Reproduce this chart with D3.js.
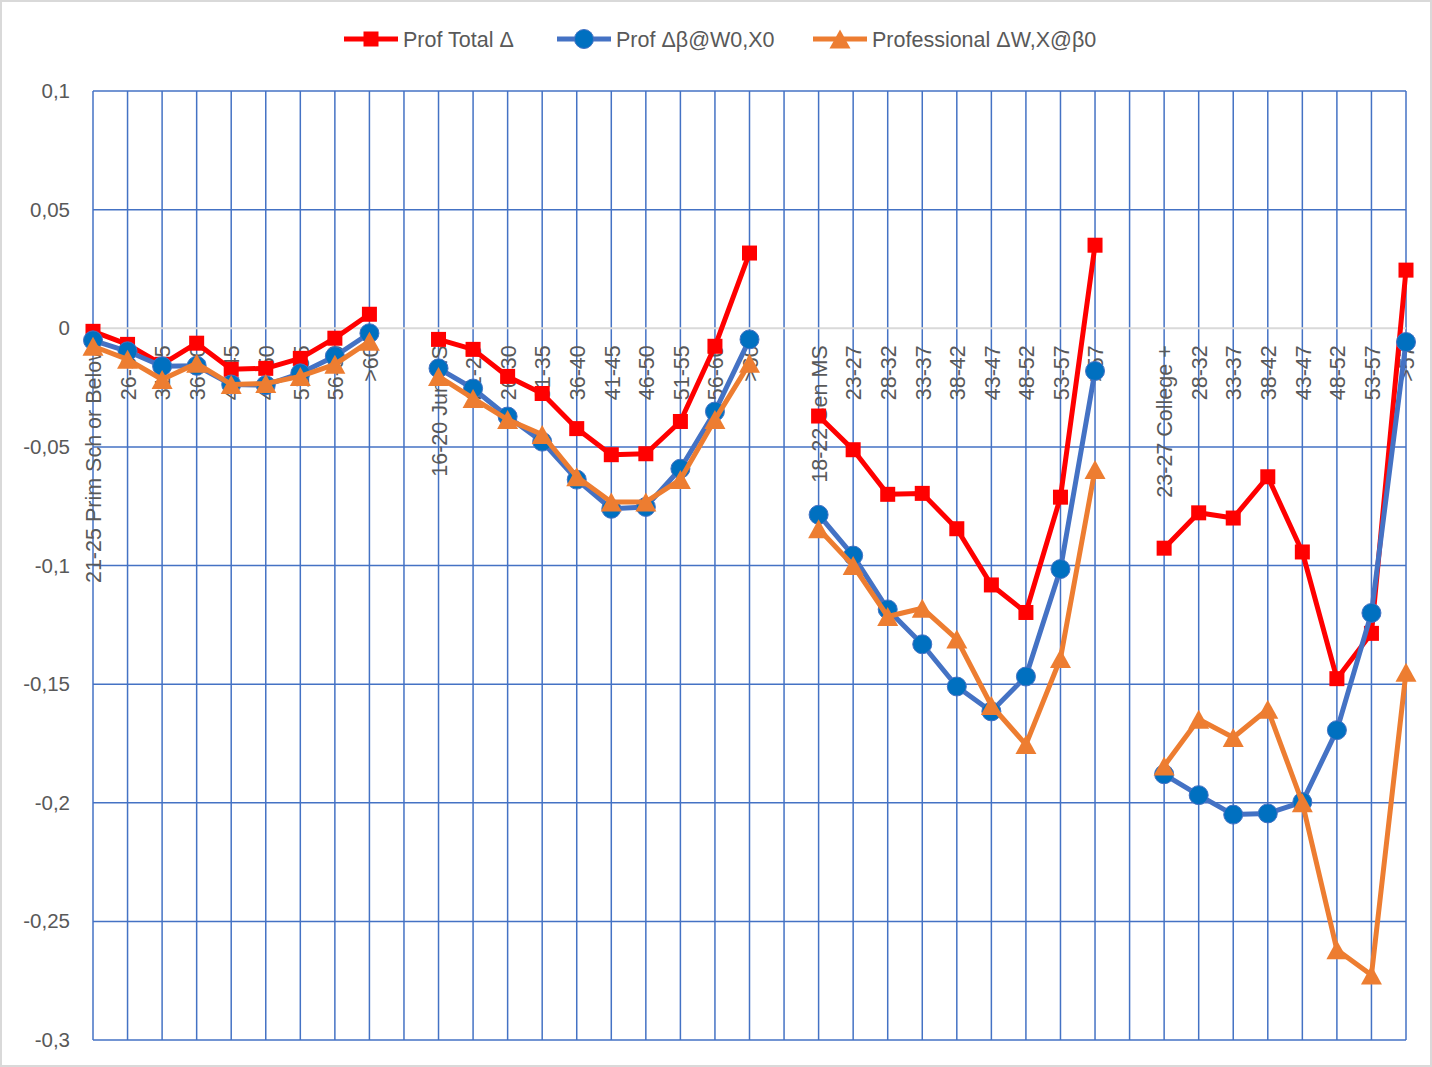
<!DOCTYPE html>
<html>
<head>
<meta charset="utf-8">
<script src="https://cdn.jsdelivr.net/npm/d3@7"></script>
<style>
  body { margin: 0; background: #fff; }
  svg text { font-family: "Liberation Sans", Arial, sans-serif; fill: #595959; }
</style>
</head>
<body>
<div id="chart"></div>
<script>
// categories, "" = gap between education groups
var categories = [
  "21-25 Prim Sch or Below", "26-30", "31-35", "36-40", "41-45", "46-50", "51-55", "56-60", ">60", "",
  "16-20 Jun HS", "21-25", "26-30", "31-35", "36-40", "41-45", "46-50", "51-55", "56-60", ">60", "",
  "18-22 Sen MS", "23-27", "28-32", "33-37", "38-42", "43-47", "48-52", "53-57", ">57", "",
  "23-27 College +", "28-32", "33-37", "38-42", "43-47", "48-52", "53-57", ">57"
];

var profTotal = [
  -0.0013, -0.0068, -0.0152, -0.0063, -0.0173, -0.0169, -0.0127, -0.0042, 0.0059, null,
  -0.0047, -0.0089, -0.0203, -0.0275, -0.0423, -0.0533, -0.0529, -0.0393, -0.0076, 0.0317, null,
  -0.0370, -0.0512, -0.0700, -0.0696, -0.0845, -0.1082, -0.1198, -0.0712, 0.0350, null,
  -0.0927, -0.0778, -0.0800, -0.0626, -0.0943, -0.1477, -0.1286, 0.0245
];

var profBeta = [
  -0.0051, -0.0097, -0.0160, -0.0158, -0.0237, -0.0240, -0.0190, -0.0118, -0.0021, null,
  -0.0169, -0.0254, -0.0372, -0.0478, -0.0638, -0.0761, -0.0753, -0.0592, -0.0351, -0.0047, null,
  -0.0786, -0.0958, -0.1185, -0.1332, -0.1510, -0.1615, -0.1468, -0.1015, -0.0180, null,
  -0.1880, -0.1968, -0.2050, -0.2045, -0.1997, -0.1694, -0.1200, -0.0058
];

var profWX = [
  -0.0076, -0.0131, -0.0216, -0.0148, -0.0237, -0.0233, -0.0203, -0.0152, -0.0055, null,
  -0.0203, -0.0296, -0.0385, -0.0448, -0.0626, -0.0732, -0.0732, -0.0638, -0.0385, -0.0148, null,
  -0.0845, -0.1000, -0.1215, -0.1180, -0.1310, -0.1590, -0.1755, -0.1392, -0.0595, null,
  -0.1845, -0.1648, -0.1725, -0.1606, -0.2000, -0.2620, -0.2726, -0.1450
];

var yTicks = [0.1, 0.05, 0, -0.05, -0.1, -0.15, -0.2, -0.25, -0.3];
var seriesNames = ["Prof Total \u0394", "Prof \u0394\u03b2@W0,X0", "Professional \u0394W,X@\u03b20"];

var W = 1432, H = 1067;
var margin = { top: 91, right: 26, bottom: 27, left: 93 },
    width = W - margin.left - margin.right,
    height = H - margin.top - margin.bottom;

var svg = d3.select("#chart").append("svg")
    .attr("width", W)
    .attr("height", H);

// chart border
svg.append("rect")
    .attr("x", 1).attr("y", 1)
    .attr("width", W - 2).attr("height", H - 2)
    .attr("fill", "none")
    .attr("stroke", "#D9D9D9")
    .attr("stroke-width", 2);

var g = svg.append("g")
    .attr("transform", "translate(" + margin.left + "," + margin.top + ")");

var x = d3.scalePoint()
    .domain(d3.range(categories.length))
    .range([0, width]);

var y = d3.scaleLinear()
    .domain([-0.3, 0.1])
    .range([height, 0]);

var fmt = function (d) { return d3.format("~g")(d).replace(".", ",").replace("\u2212", "-"); };

// horizontal gridlines
g.append("g")
    .selectAll("line")
    .data(yTicks.filter(function (d) { return d !== 0; }))
    .enter().append("line")
    .attr("x1", 0).attr("x2", width)
    .attr("y1", function (d) { return y(d); })
    .attr("y2", function (d) { return y(d); })
    .attr("stroke", "#4472C4")
    .attr("stroke-width", 1.5);

// vertical gridlines, one per category
g.append("g")
    .selectAll("line")
    .data(d3.range(categories.length))
    .enter().append("line")
    .attr("x1", function (d) { return x(d); })
    .attr("x2", function (d) { return x(d); })
    .attr("y1", 0).attr("y2", height)
    .attr("stroke", "#4472C4")
    .attr("stroke-width", 1.5);

// zero axis line
g.append("line")
    .attr("x1", 0).attr("x2", width)
    .attr("y1", y(0)).attr("y2", y(0))
    .attr("stroke", "#D9D9D9")
    .attr("stroke-width", 2);

// Y axis labels
var yAxis = g.append("g")
    .call(d3.axisLeft(y).tickValues(yTicks).tickSize(0).tickPadding(23).tickFormat(fmt));
yAxis.select(".domain").remove();
yAxis.selectAll("text")
    .style("font-size", "20.5px")
    .attr("fill", "#595959");

// X axis labels (rotated, hanging below the zero line)
var xAxis = g.append("g")
    .attr("transform", "translate(0," + y(0) + ")")
    .call(d3.axisBottom(x).tickSize(0).tickFormat(function (i) { return categories[i]; }));
xAxis.select(".domain").remove();
xAxis.selectAll("text")
    .attr("transform", "rotate(-90)")
    .attr("x", -17)
    .attr("y", 0)
    .attr("dy", "0.36em")
    .style("text-anchor", "end")
    .style("font-size", "21.5px")
    .attr("fill", "#595959");

var line = d3.line()
    .defined(function (d) { return d != null; })
    .x(function (d, i) { return x(i); })
    .y(function (d) { return y(d); });

function tri(w, h) {
    return "M0," + (-h / 2) + "L" + (w / 2) + "," + (h / 2) + "L" + (-w / 2) + "," + (h / 2) + "Z";
}

var series = [
    { name: seriesNames[0], values: profTotal, color: "#FF0000", fill: "#FF0000", marker: "square" },
    { name: seriesNames[1], values: profBeta, color: "#4472C4", fill: "#0070C0", marker: "circle" },
    { name: seriesNames[2], values: profWX, color: "#ED7D31", fill: "#ED7D31", marker: "triangle" }
];

function drawMarker(sel, s) {
    if (s.marker === "square") {
        sel.append("rect").attr("x", -7.5).attr("y", -7.5).attr("width", 15).attr("height", 15)
            .attr("fill", s.fill);
    } else if (s.marker === "circle") {
        sel.append("circle").attr("r", 9.5)
            .attr("fill", s.fill).attr("stroke", s.color).attr("stroke-width", 1);
    } else {
        sel.append("path").attr("d", tri(21, 19)).attr("fill", s.fill);
    }
}

series.forEach(function (s) {
    g.append("path")
        .datum(s.values)
        .attr("fill", "none")
        .attr("stroke", s.color)
        .attr("stroke-width", 5)
        .attr("stroke-linejoin", "round")
        .attr("d", line);

    var pts = [];
    s.values.forEach(function (v, i) { if (v != null) pts.push({ i: i, v: v }); });
    g.append("g")
        .selectAll("g")
        .data(pts)
        .enter().append("g")
        .attr("transform", function (d) { return "translate(" + x(d.i) + "," + y(d.v) + ")"; })
        .each(function () { drawMarker(d3.select(this), s); });
});

// legend
var legendX = [344, 557, 813];
var legend = svg.append("g");
series.forEach(function (s, k) {
    var lg = legend.append("g").attr("transform", "translate(" + legendX[k] + ",39)");
    lg.append("line").attr("x1", 0).attr("x2", 54)
        .attr("stroke", s.color).attr("stroke-width", 5);
    var m = lg.append("g").attr("transform", "translate(27,0)");
    drawMarker(m, s);
    lg.append("text").attr("x", 59).attr("dy", "0.35em")
        .style("font-size", "21.5px")
        .text(s.name);
});
</script>
</body>
</html>
